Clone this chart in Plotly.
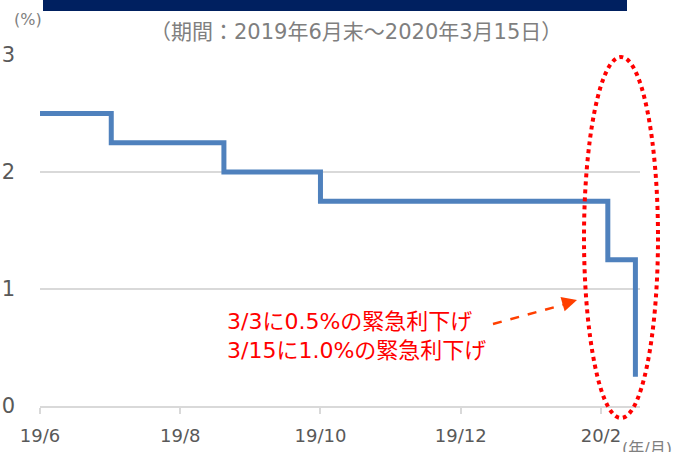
import plotly.graph_objects as go

# Data: US policy rate (upper bound), step changes
dates = ["2019-06-30", "2019-07-31", "2019-09-18", "2019-10-30", "2020-03-03", "2020-03-15"]
rates = [2.5, 2.25, 2.0, 1.75, 1.25, 0.25]

tick_dates = ["2019-06-30", "2019-08-30", "2019-10-30", "2019-12-30", "2020-02-29"]
tick_labels = ["19/6", "19/8", "19/10", "19/12", "20/2"]

y_ticks = [0, 1, 2, 3]

subtitle = "（期間：2019年6月末～2020年3月15日）"
note_lines = ["3/3に0.5%の緊急利下げ", "3/15に1.0%の緊急利下げ"]

L, R, T, B = 40, 40, 55, 46
W, H = 680, 452
PW, PH = W - L - R, H - T - B

def px(x):
    return (x - L) / PW

def py(y):
    return (H - B - y) / PH

FONT = "DejaVu Sans, Noto Sans CJK JP"

fig = go.Figure()
fig.add_trace(go.Scatter(
    x=dates, y=rates, mode="lines", line=dict(shape="hv", color="#4F81BD", width=5),
    hoverinfo="skip", showlegend=False,
))

fig.update_layout(
    width=W, height=H, margin=dict(l=L, r=R, t=T, b=B),
    paper_bgcolor="white", plot_bgcolor="white",
    font=dict(family=FONT, color="#595959"),
    xaxis=dict(
        type="date", range=["2019-06-30", "2020-03-17"], automargin=False,
        tickvals=tick_dates, ticktext=tick_labels,
        showgrid=False, showline=True, linecolor="#d9d9d9", linewidth=2,
        ticks="outside", tickcolor="#d9d9d9", ticklen=6, tickwidth=2,
        tickfont=dict(size=18, color="#595959", family=FONT),
        ticklabelstandoff=6,
    ),
    yaxis=dict(
        range=[0, 3], tickvals=y_ticks, automargin=False,
        showgrid=True, gridcolor="#d9d9d9", gridwidth=2,
        zeroline=False, showline=False,
        tickfont=dict(size=21, color="#595959", family=FONT),
        ticklabelstandoff=24,
    ),
)

shapes = [
    # top navy bar
    dict(type="rect", xref="paper", yref="paper", x0=px(43), x1=px(627), y0=py(11), y1=py(-2),
         fillcolor="#002060", line=dict(width=0), layer="above"),
    # dotted ellipse
    dict(type="circle", xref="paper", yref="paper", x0=px(584), x1=px(658), y0=py(418), y1=py(57),
         line=dict(color="#FF0000", width=4, dash="dot"), fillcolor="rgba(0,0,0,0)"),
    # dashed arrow shaft
    dict(type="line", xref="paper", yref="paper", x0=px(493), y0=py(324), x1=px(566), y1=py(304),
         line=dict(color="#FF3F00", width=2.5, dash="dash")),
]
fig.update_layout(shapes=shapes)

annotations = [
    dict(text=subtitle, xref="paper", yref="paper", x=px(356), y=py(32), showarrow=False,
         font=dict(size=21, color="#7f7f7f", family=FONT), xanchor="center", yanchor="middle"),
    dict(text="(%)", xref="paper", yref="paper", x=px(28), y=py(20), showarrow=False,
         font=dict(size=16, color="#7f7f7f", family=FONT), xanchor="center", yanchor="middle"),
    dict(text="(年/月)", xref="paper", yref="paper", x=px(620), y=py(448), showarrow=False,
         font=dict(size=16, color="#7f7f7f", family=FONT), xanchor="left", yanchor="middle"),
    dict(text="", xref="paper", yref="paper", x=px(577), y=py(300), ax=-14, ay=4,
         axref="pixel", ayref="pixel", showarrow=True, arrowhead=2, arrowsize=1.2,
         arrowwidth=2.5, arrowcolor="#FF3F00"),
    dict(text="<br>".join(note_lines), xref="paper", yref="paper", x=px(225), y=py(336),
         showarrow=False, align="left",
         font=dict(size=22, color="#FF0000", family=FONT), xanchor="left", yanchor="middle"),
]
fig.update_layout(annotations=annotations)

fig.write_html("out.html", config={"displayModeBar": False},
               post_script="document.body.style.margin='0';")
